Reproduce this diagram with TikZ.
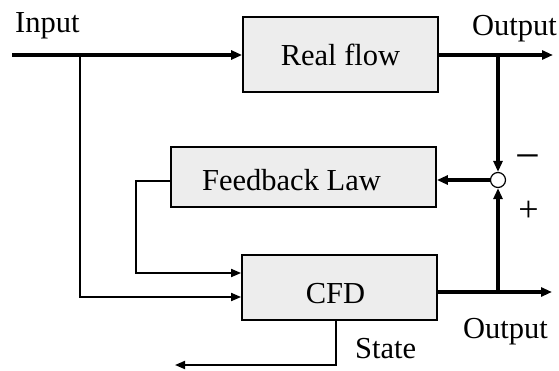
\documentclass[tikz,border=0pt]{standalone}
\usepackage{fontspec}
\setmainfont{Liberation Serif}
\usetikzlibrary{arrows.meta,calc}
\begin{document}
\begin{tikzpicture}[x=1pt,y=-1pt,
  txt/.style={font=\fontsize{30.5}{33}\selectfont},
  blk/.style={draw, line width=1.8pt, fill=black!7, inner sep=0pt, txt},
  lbl/.style={txt, inner sep=0pt},
  thickline/.style={line width=3.2pt},
  thinline/.style={line width=1.8pt},
  tip/.style={-{Triangle[length=11pt,width=9pt]}},
  smalltip/.style={-{Triangle[length=10pt,width=8pt]}}]
\useasboundingbox (0,0) rectangle (559,370);
% blocks
\node[blk, minimum width=195pt, minimum height=75pt, text height=22pt, text depth=0pt] (rf) at (340.5,54.5) {Real flow};
\node[blk, minimum width=265pt, minimum height=60pt, text height=26pt, text depth=0pt] (fb) at (303.5,177) {\hspace*{-24pt}Feedback Law};
\node[blk, minimum width=195pt, minimum height=65pt, text height=31pt, text depth=0pt] (cfd) at (339.5,287.5) {\hspace*{-8pt}CFD};
\node[draw, circle, line width=1.2pt, fill=white, minimum size=15pt, inner sep=0pt] (sum) at (498,180) {};
% labels
\node[lbl, anchor=base west] (linput) at (15,32) {Input};
\node[lbl, anchor=base west] (lout1) at (472,35) {Output};
\node[lbl, anchor=base west] (lout2) at (463,338) {Output};
\node[lbl, anchor=base west] (lstate) at (355,358) {State};
\node[lbl, font=\fontsize{44}{44}\selectfont] (lminus) at (527.5,163) {−};
\node[lbl, font=\fontsize{36}{36}\selectfont] (lplus) at (528.5,211) {+};
% coordinates
\coordinate (in) at (12,55);
\coordinate (j1) at (80,55);
\coordinate (j1b) at (80,297);
\coordinate (o1) at (553,55);
\coordinate (j2) at (498,55);
\coordinate (k1) at (136,181);
\coordinate (k2) at (136,273);
\coordinate (o2) at (552,292);
\coordinate (j3) at (498,292);
\coordinate (s1) at (336,365);
\coordinate (s2) at (175,365);
% connectors
\draw[thickline, tip] (in) -- (in -| rf.west);
\draw[thinline, smalltip] (j1) -- (j1b) -- (j1b -| cfd.west);
\draw[thickline, tip] (o1 -| rf.east) -- (o1);
\draw[thickline, tip] (j2) -- (sum.north);
\draw[thickline, tip] (sum.west) -- (sum.west -| fb.east);
\draw[thinline, smalltip] (k1 -| fb.west) -- (k1) -- (k2) -- (k2 -| cfd.west);
\draw[thickline, tip] (o2 -| cfd.east) -- (o2);
\draw[thickline, tip] (j3) -- (sum.south);
\draw[thinline, smalltip] (s1 |- cfd.south) -- (s1) -- (s2);
\end{tikzpicture}
\end{document}
